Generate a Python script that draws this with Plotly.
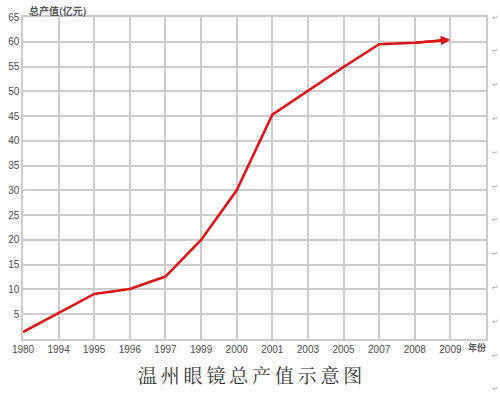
import plotly.graph_objects as go

years = ["1980", "1994", "1995", "1996", "1997", "1999", "2000", "2001", "2003", "2005", "2007", "2008", "2009"]
values = [1.4, 5.2, 9.1, 10.1, 12.6, 20.0, 30.0, 45.3, 50.1, 54.9, 59.5, 59.8, 60.4]
y_ticks = [5, 10, 15, 20, 25, 30, 35, 40, 45, 50, 55, 60, 65]

xs = list(range(len(years)))

fig = go.Figure()
fig.add_trace(go.Scatter(
    x=xs[:-1] + [xs[-1] - 0.1], y=values[:-1] + [values[-1] - 0.05],
    mode="lines", line=dict(color="#dd1515", width=2.6), hoverinfo="skip", showlegend=False,
))
# arrow head at the final point
fig.add_annotation(
    x=xs[-1], y=values[-1], ax=xs[-2], ay=values[-2],
    xref="x", yref="y", axref="x", ayref="y",
    showarrow=True, arrowhead=2, arrowsize=0.8, arrowwidth=2.4, arrowcolor="#dd1515", text="",
)

grid = "#cccccc"
fig.update_xaxes(
    range=[0, 13], tickmode="array", tickvals=xs, ticktext=years, automargin=False,
    showgrid=True, gridcolor=grid, gridwidth=1.5, zeroline=False,
    showline=True, linecolor=grid, linewidth=1.5, mirror=True,
    ticks="", tickfont=dict(family="Liberation Sans, Arial", size=10, color="#4a4a4a"),
)
fig.update_yaxes(
    range=[0, 65], tickmode="array", tickvals=y_ticks, automargin=False,
    showgrid=True, gridcolor=grid, gridwidth=1.5, zeroline=False,
    showline=True, linecolor=grid, linewidth=1.5, mirror=True,
    ticks="", tickfont=dict(family="Liberation Sans, Arial", size=10, color="#4a4a4a"),
)

fig.add_annotation(text="<b>总产值(亿元)</b>", xref="paper", yref="paper", x=0.008, y=1.0, yshift=7,
                   xanchor="left", yanchor="middle", showarrow=False,
                   font=dict(family="Noto Sans CJK SC", size=10, color="#555555"))
fig.add_annotation(text="<b>年份</b>", xref="paper", yref="paper", x=0.98, y=0, yshift=-8,
                   xanchor="center", yanchor="middle", showarrow=False,
                   font=dict(family="Noto Sans CJK SC", size=9, color="#555555"))
fig.add_annotation(text="\u2009".join("温州眼镜总产值示意图"), xref="paper", yref="paper",
                   x=0.49, y=0, yshift=-35, xanchor="center", yanchor="middle", showarrow=False,
                   font=dict(family="Noto Serif CJK SC, AR PL UKai CN, Noto Sans CJK SC", size=19, color="#333333"))

for i in range(12):
    fig.add_annotation(text="↵", xref="paper", yref="paper", x=1.0, xshift=9,
                       y=1.0, yshift=-(i * 33.8) - 0.5,
                       xanchor="center", yanchor="middle", showarrow=False,
                       font=dict(family="DejaVu Sans", size=7, color="#999999"))

fig.update_layout(
    width=500, height=396,
    margin=dict(l=23, r=14, t=16.5, b=56.7, autoexpand=False),
    paper_bgcolor="white", plot_bgcolor="white",
)

fig.write_html("out.html", config={"displayModeBar": False},
               post_script="document.body.style.margin='0';document.body.style.padding='0';")
